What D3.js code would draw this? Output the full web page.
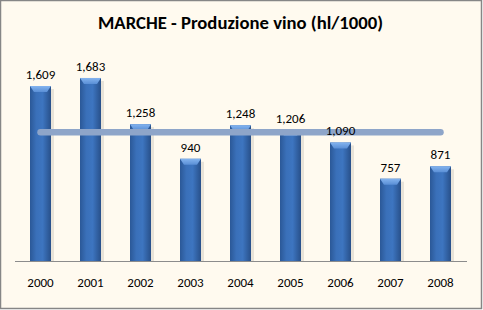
<!DOCTYPE html>
<html>
<head>
<meta charset="utf-8">
<script src="https://cdn.jsdelivr.net/npm/d3@7"></script>
<style>
  body { margin: 0; background: #fff; }
  svg { display: block; font-family: Carlito, Calibri, "Liberation Sans", Arial, sans-serif; }
</style>
</head>
<body>
<svg id="chart" width="483" height="310"></svg>
<script>
const years = ['2000', '2001', '2002', '2003', '2004', '2005', '2006', '2007', '2008'];
const values = [1609, 1683, 1258, 940, 1248, 1206, 1090, 757, 871];
const title = 'MARCHE - Produzione vino (hl/1000)';

const svg = d3.select('#chart');
const W = 483, H = 310;
const fmt = d3.format(',');

// frame
svg.append('rect').attr('x', 0.5).attr('y', 0.5).attr('width', W - 2).attr('height', H - 2)
  .attr('fill', '#fffaef').attr('stroke', '#868686').attr('stroke-width', 1.5);

const x = d3.scaleBand().domain(years).range([15.5, 465.5]).paddingInner(0.58).paddingOuter(0.29);
const y = d3.scaleLinear().domain([0, 2000]).range([261, 43.5]);

// gradients
const defs = svg.append('defs');
const body = defs.append('linearGradient').attr('id', 'barBody');
[['0%', '#2b5897'], ['30%', '#3a70b9'], ['60%', '#3d75c0'], ['100%', '#28508a']]
  .forEach(([o, c]) => body.append('stop').attr('offset', o).attr('stop-color', c));
const topG = defs.append('linearGradient').attr('id', 'barTop').attr('x2', 0).attr('y2', 1);
[['0%', '#84b4ef'], ['100%', '#5a8fd6']]
  .forEach(([o, c]) => topG.append('stop').attr('offset', o).attr('stop-color', c));

const g = svg.append('g');

// soft shadow on the right of each bar
g.selectAll('.shadow').data(values).join('rect')
  .attr('x', (d, i) => x(years[i]) + x.bandwidth())
  .attr('y', d => y(d) + 3)
  .attr('width', 3)
  .attr('height', d => y(0) - y(d) - 3)
  .attr('fill', '#d9d4c8').attr('opacity', 0.6);

g.selectAll('.bar').data(values).join('rect')
  .attr('x', (d, i) => x(years[i]))
  .attr('y', d => y(d))
  .attr('width', x.bandwidth())
  .attr('height', d => y(0) - y(d))
  .attr('fill', 'url(#barBody)');

// bevelled cap
const bw = x.bandwidth();
g.selectAll('.cap').data(values).join('path')
  .attr('d', (d, i) => {
    const x0 = x(years[i]), y0 = y(d);
    return `M${x0},${y0}H${x0 + bw}L${x0 + bw - 4},${y0 + 6}H${x0 + 4}Z`;
  })
  .attr('fill', 'url(#barTop)');

// axis line
svg.append('line').attr('x1', 15).attr('x2', 467).attr('y1', y(0) + 0.5).attr('y2', y(0) + 0.5)
  .attr('stroke', '#8c8c8c').attr('stroke-width', 1);

// average line
const avg = d3.mean(values);
svg.append('line')
  .attr('x1', x(years[0]) + bw / 2).attr('x2', x(years[years.length - 1]) + bw / 2)
  .attr('y1', y(avg)).attr('y2', y(avg))
  .attr('stroke', '#8ea5c9').attr('stroke-width', 6.5).attr('stroke-linecap', 'round');

// value labels
svg.selectAll('.lbl').data(values).join('text')
  .attr('x', (d, i) => x(years[i]) + bw / 2)
  .attr('y', d => y(d) - 7)
  .attr('text-anchor', 'middle')
  .attr('font-size', 13).attr('fill', '#000')
  .text(d => fmt(d));

// year labels
svg.selectAll('.yr').data(years).join('text')
  .attr('x', d => x(d) + bw / 2)
  .attr('y', 287)
  .attr('text-anchor', 'middle')
  .attr('font-size', 13).attr('fill', '#000')
  .text(d => d);

svg.append('text')
  .attr('x', 240.5).attr('y', 29)
  .attr('text-anchor', 'middle')
  .attr('font-size', 18).attr('font-weight', 'bold').attr('fill', '#000')
  .attr('textLength', 285).attr('lengthAdjust', 'spacingAndGlyphs')
  .text(title);
</script>
</body>
</html>
